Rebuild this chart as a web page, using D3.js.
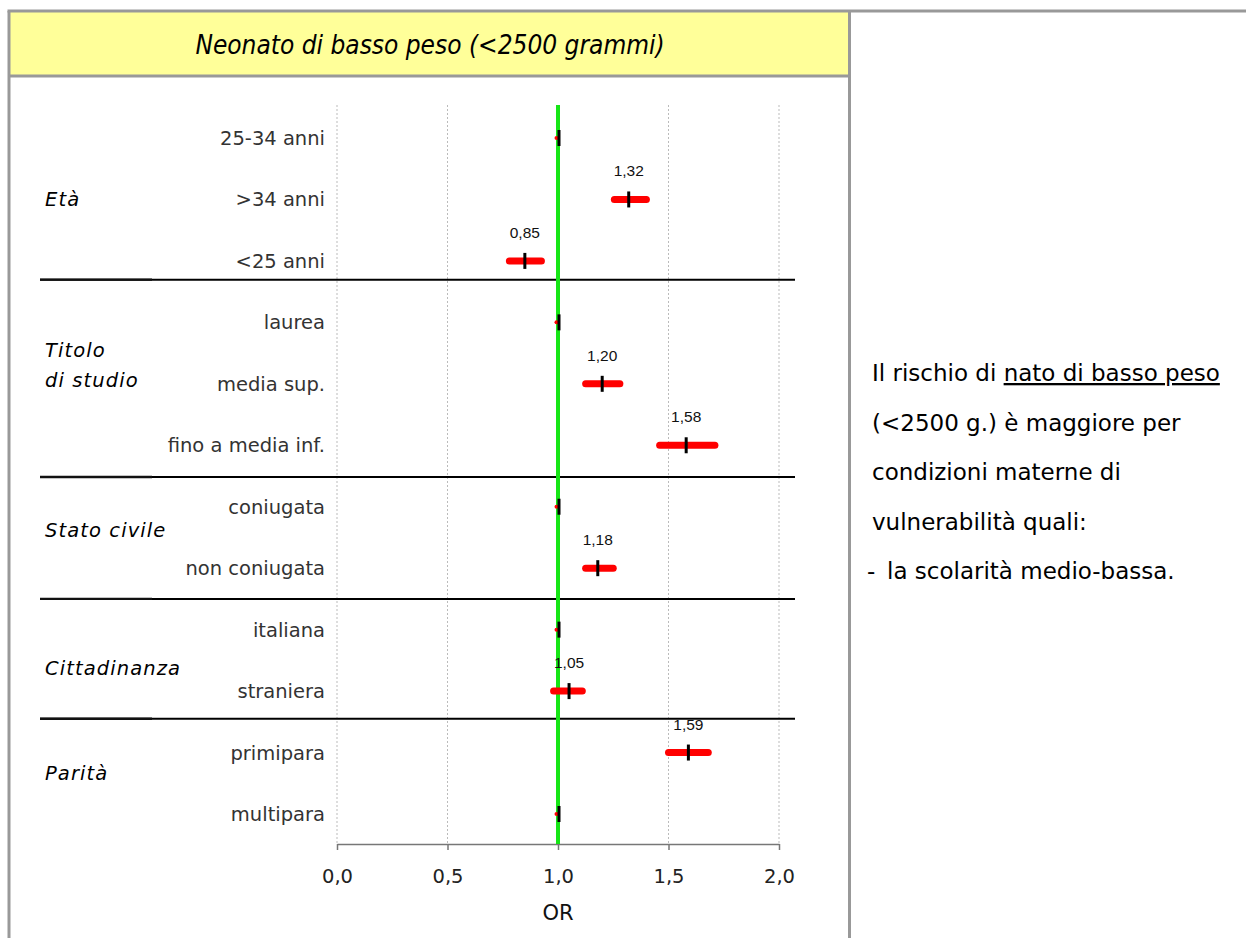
<!DOCTYPE html>
<html>
<head>
<meta charset="utf-8">
<script src="https://cdn.jsdelivr.net/npm/d3@7"></script>
<style>
  html, body { margin: 0; padding: 0; background: #fff; }
  svg { display: block; }
</style>
</head>
<body>
<svg id="chart" width="1246" height="938"></svg>
<script>
// Odds ratios (with 95% CI) for low birth weight by maternal characteristics
const groups = ["Età", "Titolo\ndi studio", "Stato civile", "Cittadinanza", "Parità"];
const categories = [
  "25-34 anni", ">34 anni", "<25 anni",
  "laurea", "media sup.", "fino a media inf.",
  "coniugata", "non coniugata",
  "italiana", "straniera",
  "primipara", "multipara"
];
const categoryGroup = [0, 0, 0, 1, 1, 1, 2, 2, 3, 3, 4, 4];
const oddsRatio = [1, 1.32, 0.85, 1, 1.20, 1.58, 1, 1.18, 1, 1.05, 1.59, 1];
const ciLow  = [1, 1.255, 0.78, 1, 1.125, 1.46, 1, 1.125, 1, 0.98, 1.50, 1];
const ciHigh = [1, 1.40, 0.925, 1, 1.28, 1.71, 1, 1.25, 1, 1.11, 1.68, 1];
// reference categories carry no value label
const isReference = [true, false, false, true, false, false, true, false, true, false, false, true];
const xTicks = [0, 0.5, 1, 1.5, 2];

const title = "Neonato di basso peso (<2500 grammi)";
const noteLines = [
  [{t: "Il rischio di "}, {t: "nato di basso peso", u: true}],
  [{t: "(<2500 g.) è maggiore per"}],
  [{t: "condizioni materne di"}],
  [{t: "vulnerabilità quali:"}],
  [{t: "la scolarità medio-bassa.", bullet: "-"}]
];

// layout tweaks: vertical nudge of group labels and separators (px)
const groupLabelNudge = [0, -19, -7, 8, -10];
const separatorNudge = [-12, 1, 0, -3];

const svg = d3.select("#chart");
const fmt = v => d3.format(".2f")(v).replace(".", ",");
const fmtTick = v => d3.format(".1f")(v).replace(".", ",");

// scales
const x = d3.scaleLinear().domain([0, 2]).range([337, 779]);
const y = d3.scalePoint().domain(d3.range(categories.length)).range([138, 814]);
const plotTop = 105, plotBottom = 844;

// frame and header
svg.append("rect").attr("x", 9).attr("y", 11).attr("width", 840).attr("height", 65).attr("fill", "#ffff99");
const frame = svg.append("g").attr("stroke", "#999").attr("stroke-width", 3).attr("fill", "none");
frame.append("line").attr("x1", 7.5).attr("x2", 1246).attr("y1", 11).attr("y2", 11);
frame.append("line").attr("x1", 9).attr("x2", 9).attr("y1", 11).attr("y2", 938);
frame.append("line").attr("x1", 849.5).attr("x2", 849.5).attr("y1", 11).attr("y2", 938);
frame.append("line").attr("x1", 9).attr("x2", 849.5).attr("y1", 76).attr("y2", 76);

svg.append("text")
  .attr("x", 430).attr("y", 54)
  .attr("text-anchor", "middle")
  .attr("font-family", "'DejaVu Sans Condensed', 'DejaVu Sans', sans-serif")
  .attr("font-style", "italic")
  .attr("font-size", 26)
  .attr("fill", "#000")
  .text(title);

// vertical grid
svg.append("g").selectAll("line")
  .data(xTicks.filter(d => d !== 1))
  .join("line")
  .attr("x1", d => x(d)).attr("x2", d => x(d))
  .attr("y1", plotTop).attr("y2", plotBottom)
  .attr("stroke", "#bbb").attr("stroke-width", 1).attr("stroke-dasharray", "2,2");

// x axis
const axis = svg.append("g")
  .attr("transform", `translate(0,${plotBottom})`)
  .call(d3.axisBottom(x).tickValues(xTicks).tickSize(6).tickSizeOuter(0).tickFormat(fmtTick));
axis.select(".domain").attr("stroke", "#777").attr("stroke-width", 1.5);
axis.selectAll(".tick line").attr("stroke", "#777").attr("stroke-width", 1.5);
axis.selectAll(".tick text")
  .attr("font-family", "'DejaVu Sans', sans-serif")
  .attr("font-size", 19.5)
  .attr("fill", "#222")
  .attr("y", 39).attr("dy", 0);
svg.append("text")
  .attr("x", x(1)).attr("y", 920)
  .attr("text-anchor", "middle")
  .attr("font-family", "'DejaVu Sans', sans-serif")
  .attr("font-size", 21)
  .attr("fill", "#111")
  .text("OR");

// group separators (between the last row of a group and the next one)
const sepY = d3.range(1, categories.length)
  .filter(i => categoryGroup[i] !== categoryGroup[i - 1])
  .map((i, k) => (y(i - 1) + y(i)) / 2 + separatorNudge[k]);
const seps = svg.append("g");
seps.selectAll("line.long").data(sepY).join("line").attr("class", "long")
  .attr("x1", 40).attr("x2", 795).attr("y1", d => d).attr("y2", d => d)
  .attr("stroke", "#000").attr("stroke-width", 2);
seps.selectAll("line.short").data(sepY).join("line").attr("class", "short")
  .attr("x1", 40).attr("x2", 152).attr("y1", d => d).attr("y2", d => d)
  .attr("stroke", "#111").attr("stroke-width", 2.4);

// reference line at OR = 1
svg.append("line")
  .attr("x1", x(1)).attr("x2", x(1))
  .attr("y1", plotTop).attr("y2", plotBottom)
  .attr("stroke", "#16e616").attr("stroke-width", 4);

// category labels
svg.append("g").selectAll("text")
  .data(categories)
  .join("text")
  .attr("x", 325).attr("y", (d, i) => y(i))
  .attr("dy", "0.36em")
  .attr("text-anchor", "end")
  .attr("font-family", "'DejaVu Sans', sans-serif")
  .attr("font-size", 19.5)
  .attr("fill", "#333")
  .text(d => d);

// group labels, placed alongside their rows
svg.append("g").selectAll("text")
  .data(groups)
  .join("text")
  .attr("font-family", "'DejaVu Sans', sans-serif")
  .attr("font-style", "italic")
  .attr("font-size", 19.5)
  .attr("letter-spacing", 1.1)
  .attr("fill", "#000")
  .each(function(g, gi) {
    const rows = d3.range(categories.length).filter(i => categoryGroup[i] === gi);
    const cy = d3.mean(rows, i => y(i)) + groupLabelNudge[gi];
    const lines = g.split("\n");
    const lh = 30;
    d3.select(this).selectAll("tspan").data(lines).join("tspan")
      .attr("x", 45)
      .attr("y", (l, li) => cy + (li - (lines.length - 1) / 2) * lh)
      .attr("dy", "0.36em")
      .text(l => l);
  });

// confidence intervals, point estimates and labels
const marks = svg.append("g");
marks.selectAll("line.ci")
  .data(d3.range(categories.length))
  .join("line").attr("class", "ci")
  .attr("x1", i => x(ciLow[i]) - (isReference[i] ? 1.5 : 0))
  .attr("x2", i => x(ciHigh[i]) - (isReference[i] ? 1.5 : 0))
  .attr("y1", i => y(i)).attr("y2", i => y(i))
  .attr("stroke", "#ff0000")
  .attr("stroke-width", i => isReference[i] ? 4 : 7)
  .attr("stroke-linecap", "round");
marks.selectAll("line.or")
  .data(d3.range(categories.length))
  .join("line").attr("class", "or")
  .attr("x1", i => x(oddsRatio[i]) + (isReference[i] ? 1 : 0))
  .attr("x2", i => x(oddsRatio[i]) + (isReference[i] ? 1 : 0))
  .attr("y1", i => y(i) - 8).attr("y2", i => y(i) + 8)
  .attr("stroke", "#000").attr("stroke-width", 3);
marks.selectAll("text")
  .data(d3.range(categories.length).filter(i => !isReference[i]))
  .join("text")
  .attr("x", i => x(oddsRatio[i]))
  .attr("y", i => y(i) - 23)
  .attr("text-anchor", "middle")
  .attr("font-family", "'Liberation Sans', Arial, sans-serif")
  .attr("font-size", 15.5)
  .attr("fill", "#111")
  .text(i => fmt(oddsRatio[i]));

// note on the right
const note = svg.append("g")
  .attr("font-family", "'DejaVu Sans', sans-serif")
  .attr("font-size", 23)
  .attr("fill", "#000");
noteLines.forEach((parts, li) => {
  const by = 381 + li * 49.5;
  const t = note.append("text").attr("y", by);
  let x0 = 872;
  if (parts[0].bullet) {
    note.append("text").attr("x", 867).attr("y", by).text(parts[0].bullet);
    x0 = 887;
  }
  t.attr("x", x0);
  parts.forEach(p => {
    t.append("tspan").text(p.t).attr("text-decoration", p.u ? "underline" : null);
  });
});
</script>
</body>
</html>
